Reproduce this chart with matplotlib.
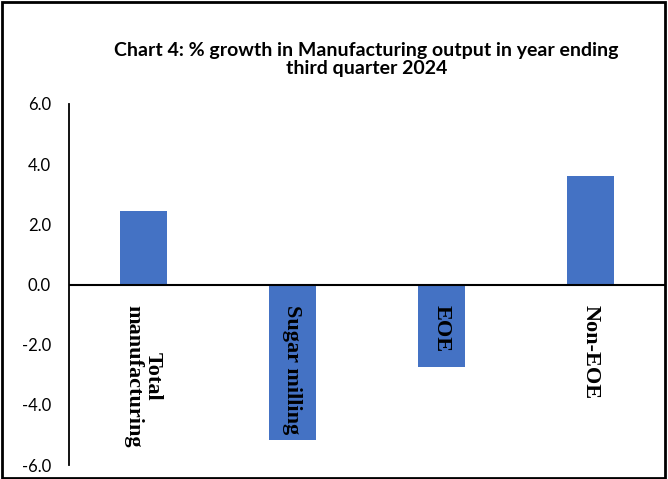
import matplotlib
matplotlib.use("Agg")
import matplotlib.pyplot as plt
from matplotlib.patches import Rectangle

# Data
categories = ["Total\nmanufacturing", "Sugar milling", "EOE", "Non-EOE"]
growth = [2.43, -5.17, -2.73, 3.6]
y_ticks = [-6.0, -4.0, -2.0, 0.0, 2.0, 4.0, 6.0]

fig = plt.figure(figsize=(6.68, 4.79), dpi=100)
ax = fig.add_axes([0.1033, 0.0292, 0.892, 0.7537])

x = range(len(categories))
ax.bar(x, growth, width=0.315, color="#4472C4")
ax.axhline(0, color="black", lw=1.5, zorder=3)

ax.set_xlim(-0.5, len(categories) - 0.5)
ax.set_ylim(-6, 6)
ax.set_yticks(y_ticks)
ax.set_yticklabels([f"{v:.1f}" for v in y_ticks], fontfamily="Lato", fontsize=12)
ax.tick_params(axis="y", length=0, pad=13)
ax.set_xticks([])

for s in ["top", "right", "bottom"]:
    ax.spines[s].set_visible(False)
ax.spines["left"].set_linewidth(1.3)

# category labels, rotated, under the zero line
for i, lab in enumerate(categories):
    ax.text(i, -0.68, lab, rotation=270, ha="center", va="top",
            multialignment="center", linespacing=0.95,
            fontfamily="Liberation Serif", fontweight="bold", fontsize=16)

fig.text(0.549, 0.876, "Chart 4: % growth in Manufacturing output in year ending\nthird quarter 2024",
         ha="center", va="center", fontfamily="Lato", fontweight="bold",
         fontsize=14, linespacing=1.05)

fig.patches.append(Rectangle((0.003, 0.002), 0.992, 0.994, transform=fig.transFigure,
                             fill=False, edgecolor="black", lw=2))

fig.savefig("out.png", dpi=100)
